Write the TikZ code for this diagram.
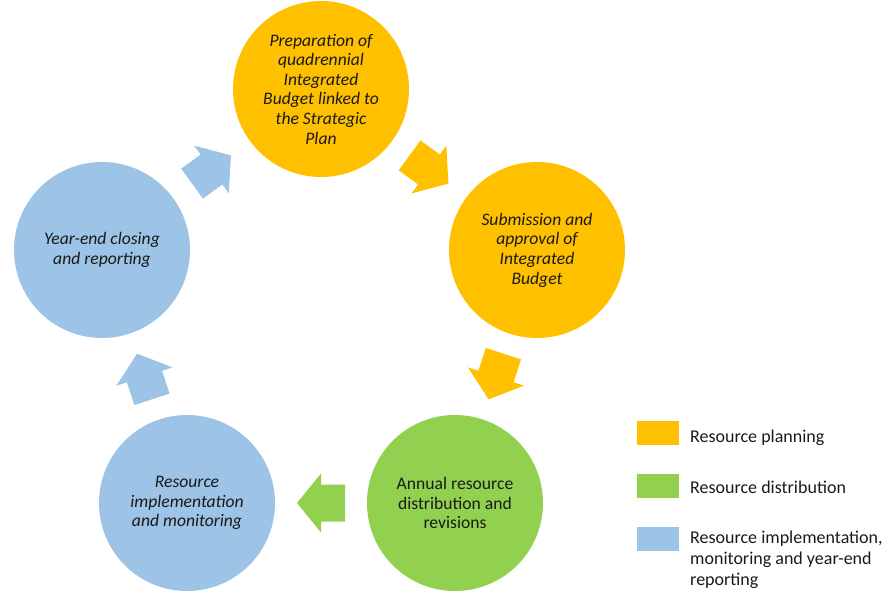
\documentclass[tikz,border=0pt]{standalone}
\usepackage{fontspec}
\setmainfont{Carlito}
\usetikzlibrary{calc}

\definecolor{planning}{HTML}{FFC000}
\definecolor{distribution}{HTML}{92D050}
\definecolor{implementation}{HTML}{9DC3E6}
\definecolor{ink}{HTML}{1A1A1A}

\tikzset{
  stage/.style={circle, minimum size=176pt, inner sep=0pt, align=center,
    text=ink, font=\fontsize{17.6}{19.6}\selectfont\itshape},
  keybox/.style={minimum width=42pt, minimum height=24pt, inner sep=0pt, anchor=north west},
  keytext/.style={anchor=base west, inner sep=0pt, align=left, text=ink,
    font=\fontsize{18}{21}\selectfont},
}

% block arrow half way between two stages, pointing at the given angle
\newcommand\cyclearrow[4]{%
  \fill[#4, shift={($(#1)!0.5!(#2)$)}, rotate=#3]
    (24,0) -- (0,29.5) -- (0,18.5) -- (-24,18.5) -- (-24,-18.5)
    -- (0,-18.5) -- (0,-29.5) -- cycle;
}

\begin{document}
\begin{tikzpicture}[x=1pt, y=-1pt]
  \useasboundingbox (0,0) rectangle (887,594);

  % the five stages of the cycle
  \node[stage, fill=planning] (prep) at (321,89)
    {Preparation of\\ quadrennial\\ Integrated\\ Budget linked to\\ the Strategic\\ Plan};
  \node[stage, fill=planning] (submit) at (537,250)
    {Submission and\\ approval of\\ Integrated\\ Budget};
  \node[stage, fill=distribution, font=\fontsize{17.6}{19.6}\selectfont] (annual) at (455,503)
    {Annual resource\\ distribution and\\ revisions};
  \node[stage, fill=implementation] (monitor) at (187,503)
    {Resource\\ implementation\\ and monitoring};
  \node[stage, fill=implementation] (close) at (102,250)
    {Year-end closing\\ and reporting};

  % arrows between consecutive stages
  \cyclearrow{prep}{submit}{-36}{planning}
  \cyclearrow{submit}{annual}{-108}{planning}
  \cyclearrow{annual}{monitor}{180}{distribution}
  \cyclearrow{monitor}{close}{108}{implementation}
  \cyclearrow{close}{prep}{36}{implementation}

  % legend (a multi-line label sits on the baseline of its last line)
  \node[keybox, fill=planning] (keyplan) at (637,421) {};
  \node[keybox, fill=distribution] (keydist) at (637,474) {};
  \node[keybox, fill=implementation] (keyimpl) at (637,527) {};
  \node[keytext] (labelplan) at (690,442) {Resource planning};
  \node[keytext] (labeldist) at (690,493) {Resource distribution};
  \node[keytext] (labelimpl) at (690,585)
    {Resource implementation,\\ monitoring and year-end\\ reporting};
\end{tikzpicture}
\end{document}
